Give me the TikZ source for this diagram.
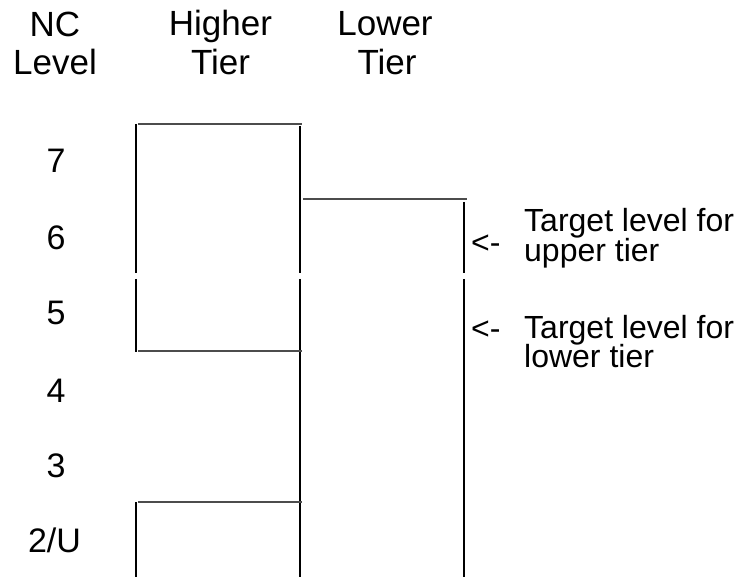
\documentclass[tikz,border=0pt]{standalone}
\usepackage{fontspec}
\setmainfont{Liberation Sans}
\begin{document}
\begin{tikzpicture}[x=1pt,y=-1pt,
  vline/.style={line width=1.2pt,black},
  hline/.style={line width=1.3pt,black!70},
  head/.style={anchor=base,inner sep=0pt,font=\fontsize{35}{38}\selectfont},
  lvl/.style={anchor=base,inner sep=0pt,font=\fontsize{34}{38}\selectfont},
  tgt/.style={anchor=base west,inner sep=0pt,font=\fontsize{32}{30}\selectfont}]
\useasboundingbox[fill=white] (0,0) rectangle (739,577);
% headers
\node[head] (nc1) at (55,37) {NC};
\node[head] (nc2) at (55,75) {Level};
\node[head] (ht1) at (220.5,36) {Higher};
\node[head] (ht2) at (220.5,75) {Tier};
\node[head] (lt1) at (385,36) {Lower};
\node[head] (lt2) at (387,75) {Tier};
% levels
\node[lvl] (l7) at (56,173) {7};
\node[lvl] (l6) at (56,250) {6};
\node[lvl] (l5) at (56,325) {5};
\node[lvl] (l4) at (56,402) {4};
\node[lvl] (l3) at (56,477) {3};
\node[lvl] (l2) at (54.5,552) {2/U};
% targets
\node[tgt] (a1) at (471,254) {<-};
\node[tgt] (t1a) at (524,232) {Target level for};
\node[tgt] (t1b) at (524,262) {upper tier};
\node[tgt] (a2) at (471,340) {<-};
\node[tgt] (t2a) at (524,338) {Target level for};
\node[tgt] (t2b) at (524,367) {lower tier};
% verticals
\draw[vline] (136,124) -- (136,273);
\draw[vline] (136,279) -- (136,352);
\draw[vline] (136,502) -- (136,577);
\draw[vline] (300,126) -- (300,273);
\draw[vline] (300,279) -- (300,577);
\draw[vline] (464,202) -- (464,273);
\draw[vline] (464,279) -- (464,577);
% horizontals
\draw[hline] (138,124) -- (302,124);
\draw[hline] (303,199) -- (467,199);
\draw[hline] (138,351) -- (302,351);
\draw[hline] (138,502) -- (302,502);
\end{tikzpicture}
\end{document}
